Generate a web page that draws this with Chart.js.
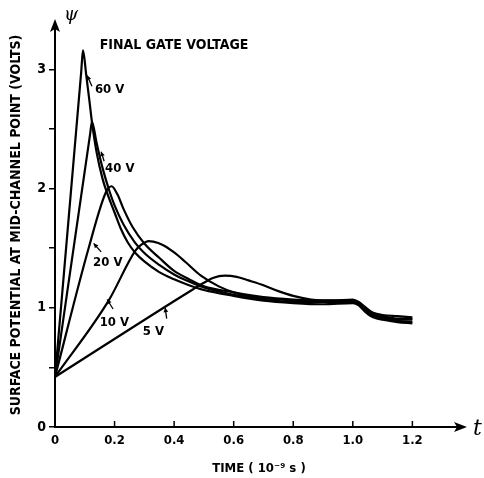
<!DOCTYPE html>
<html>
<head>
<meta charset="utf-8">
<script src="https://cdn.jsdelivr.net/npm/chart.js@4.4.1/dist/chart.umd.min.js"></script>
<style>
  html, body { margin: 0; padding: 0; background: #fff; }
</style>
</head>
<body>
<canvas id="grafico" width="484" height="478" style="width:484px;height:478px"></canvas>
<script>
// Curvas de potencial de superfície (tempo em 1e-9 s, potencial em volts)
var t60 = [0, 0.088, 0.094, 0.105, 0.115, 0.124, 0.14, 0.16, 0.174, 0.2, 0.22, 0.244, 0.27, 0.3, 0.35, 0.4, 0.45, 0.5, 0.6, 0.7, 0.8, 0.9, 1.0, 1.02, 1.04, 1.06, 1.08, 1.1, 1.15, 1.2];
var v60 = [0.42, 2.98, 3.16, 2.95, 2.75, 2.56, 2.3, 2.08, 1.97, 1.8, 1.67, 1.55, 1.46, 1.39, 1.3, 1.24, 1.19, 1.15, 1.1, 1.06, 1.04, 1.03, 1.04, 1.02, 0.97, 0.93, 0.91, 0.9, 0.88, 0.87];

var t40 = [0, 0.118, 0.124, 0.14, 0.16, 0.184, 0.2, 0.23, 0.268, 0.3, 0.35, 0.4, 0.45, 0.5, 0.6, 0.7, 0.8, 0.9, 1.0, 1.02, 1.04, 1.06, 1.08, 1.1, 1.15, 1.2];
var v40 = [0.42, 2.46, 2.56, 2.38, 2.17, 1.97, 1.86, 1.7, 1.55, 1.46, 1.36, 1.28, 1.22, 1.17, 1.11, 1.07, 1.05, 1.05, 1.05, 1.03, 0.98, 0.94, 0.92, 0.91, 0.89, 0.88];

var t20 = [0, 0.114, 0.171, 0.19, 0.21, 0.23, 0.26, 0.3, 0.35, 0.4, 0.45, 0.5, 0.6, 0.7, 0.8, 0.9, 1.0, 1.02, 1.04, 1.06, 1.08, 1.1, 1.15, 1.2];
var v20 = [0.42, 1.51, 1.97, 2.02, 1.95, 1.83, 1.68, 1.54, 1.42, 1.31, 1.24, 1.18, 1.13, 1.09, 1.07, 1.06, 1.06, 1.04, 0.99, 0.95, 0.93, 0.92, 0.9, 0.9];

var t10 = [0, 0.18, 0.27, 0.29, 0.315, 0.33, 0.36, 0.4, 0.44, 0.49, 0.55, 0.6, 0.65, 0.75, 0.85, 1.0, 1.02, 1.04, 1.06, 1.08, 1.1, 1.15, 1.2];
var v10 = [0.42, 1.06, 1.48, 1.53, 1.56, 1.555, 1.53, 1.465, 1.38, 1.27, 1.18, 1.13, 1.1, 1.07, 1.06, 1.06, 1.04, 1.0, 0.96, 0.94, 0.93, 0.91, 0.91];

var t5 = [0, 0.46, 0.5, 0.53, 0.57, 0.61, 0.65, 0.7, 0.75, 0.8, 0.86, 0.93, 1.0, 1.02, 1.04, 1.06, 1.08, 1.1, 1.15, 1.2];
var v5 = [0.42, 1.15, 1.21, 1.25, 1.27, 1.26, 1.23, 1.19, 1.14, 1.1, 1.07, 1.06, 1.07, 1.05, 1.01, 0.97, 0.95, 0.94, 0.93, 0.92];

var series = [[t60, v60], [t40, v40], [t20, v20], [t10, v10], [t5, v5]];

// Rótulos das curvas (posição em coordenadas de dados)
var rotulos = ['60 V', '40 V', '20 V', '10 V', '5 V'];
var rotuloX = [0.134, 0.168, 0.128, 0.15, 0.295];
var rotuloY = [2.83, 2.17, 1.38, 0.88, 0.80];

var fonte = "'DejaVu Sans Condensed', 'DejaVu Sans', sans-serif";

function pontos(t, v) {
    return t.map(function(x, i) { return { x: x, y: v[i] }; });
}

// Desenha setas dos eixos, marcas do eixo x e anotações
var extras = {
    id: 'extras',
    afterDraw: function(chart) {
        var c = chart.ctx;
        var sx = chart.scales.x, sy = chart.scales.y;
        var x0 = sx.left, y0 = sy.bottom;
        c.save();
        c.strokeStyle = '#000';
        c.fillStyle = '#000';

        // marcas do eixo x para dentro
        c.lineWidth = 1.5;
        sx.ticks.forEach(function(t) {
            var px = sx.getPixelForValue(t.value);
            c.beginPath(); c.moveTo(px, y0); c.lineTo(px, y0 - 6); c.stroke();
        });

        // setas
        c.beginPath();
        c.moveTo(sx.right + 4, y0); c.lineTo(sx.right - 9, y0 - 5); c.lineTo(sx.right - 6, y0); c.lineTo(sx.right - 9, y0 + 5);
        c.closePath(); c.fill();
        c.beginPath();
        c.moveTo(x0, sy.top - 4); c.lineTo(x0 - 5, sy.top + 9); c.lineTo(x0, sy.top + 6); c.lineTo(x0 + 5, sy.top + 9);
        c.closePath(); c.fill();

        c.font = "italic 18px 'DejaVu Serif', serif";
        c.textAlign = 'left';
        c.textBaseline = 'middle';
        c.fillText('\u03c8', x0 + 9, sy.top - 8);
        c.font = "italic 22px 'DejaVu Serif', serif";
        c.fillText('t', sx.right + 10, y0 + 2);

        // anotações
        c.font = 'bold 14px ' + fonte;
        c.fillText('FINAL GATE VOLTAGE', sx.getPixelForValue(0.15), sy.getPixelForValue(3.2));
        c.font = 'bold 13px ' + fonte;
        rotulos.forEach(function(r, i) {
            c.fillText(r, sx.getPixelForValue(rotuloX[i]), sy.getPixelForValue(rotuloY[i]));
        });

        // pequenas setas apontando para as curvas
        var setas = [[0.124, 2.86, 0.108, 2.95], [0.165, 2.23, 0.155, 2.31], [0.155, 1.47, 0.13, 1.54], [0.195, 0.99, 0.175, 1.07], [0.375, 0.91, 0.37, 1.0]];
        c.lineWidth = 1.3;
        setas.forEach(function(s) {
            var ax = sx.getPixelForValue(s[0]), ay = sy.getPixelForValue(s[1]);
            var bx = sx.getPixelForValue(s[2]), by = sy.getPixelForValue(s[3]);
            c.beginPath(); c.moveTo(ax, ay); c.lineTo(bx, by); c.stroke();
            var ang = Math.atan2(by - ay, bx - ax);
            c.beginPath();
            c.moveTo(bx, by);
            c.lineTo(bx - 5 * Math.cos(ang - 0.5), by - 5 * Math.sin(ang - 0.5));
            c.lineTo(bx - 5 * Math.cos(ang + 0.5), by - 5 * Math.sin(ang + 0.5));
            c.closePath(); c.fill();
        });
        c.restore();
    }
};

var ctx = document.getElementById('grafico').getContext('2d');
var chart = new Chart(ctx, {
    type: 'line',
    data: {
        datasets: series.map(function(s) {
            return {
                data: pontos(s[0], s[1]),
                borderColor: '#000',
                borderWidth: 2.2,
                pointRadius: 0,
                cubicInterpolationMode: 'monotone',
                fill: false
            };
        })
    },
    options: {
        responsive: false,
        animation: false,
        events: [],
        layout: { padding: { top: 23, right: 21, left: 0, bottom: 0 } },
        plugins: { legend: { display: false }, tooltip: { enabled: false } },
        scales: {
            x: {
                type: 'linear',
                min: 0,
                max: 1.37,
                afterFit: function(s) { s.height = 51; },
                border: { color: '#000', width: 2 },
                grid: { display: true, drawOnChartArea: false, drawTicks: false },
                ticks: {
                    stepSize: 0.2,
                    includeBounds: false,
                    padding: 6,
                    color: '#000',
                    font: { family: fonte, size: 13, weight: 'bold' },
                    callback: function(v) { return v === 0 ? '0' : (v > 1.25 ? '' : v.toFixed(1)); }
                },
                title: {
                    display: true,
                    text: 'TIME ( 10\u207b\u2079 s )',
                    color: '#000',
                    font: { family: fonte, size: 13, weight: 'bold' },
                    padding: { top: 0, bottom: 2 }
                }
            },
            y: {
                min: 0,
                max: 3.39,
                afterFit: function(s) { s.width = 55; },
                border: { color: '#000', width: 2 },
                grid: { display: true, drawOnChartArea: false, tickLength: 6, color: '#000', lineWidth: 1.5 },
                ticks: {
                    stepSize: 0.5,
                    includeBounds: false,
                    padding: 3,
                    color: '#000',
                    font: { family: fonte, size: 14, weight: 'bold' },
                    callback: function(v) { return Number.isInteger(v) ? String(v) : ''; }
                },
                title: {
                    display: true,
                    text: 'SURFACE POTENTIAL AT MID-CHANNEL POINT (VOLTS)',
                    color: '#000',
                    font: { family: fonte, size: 14, weight: 'bold' },
                    padding: { top: 8, bottom: 0 }
                }
            }
        }
    },
    plugins: [extras]
});
</script>
</body>
</html>
